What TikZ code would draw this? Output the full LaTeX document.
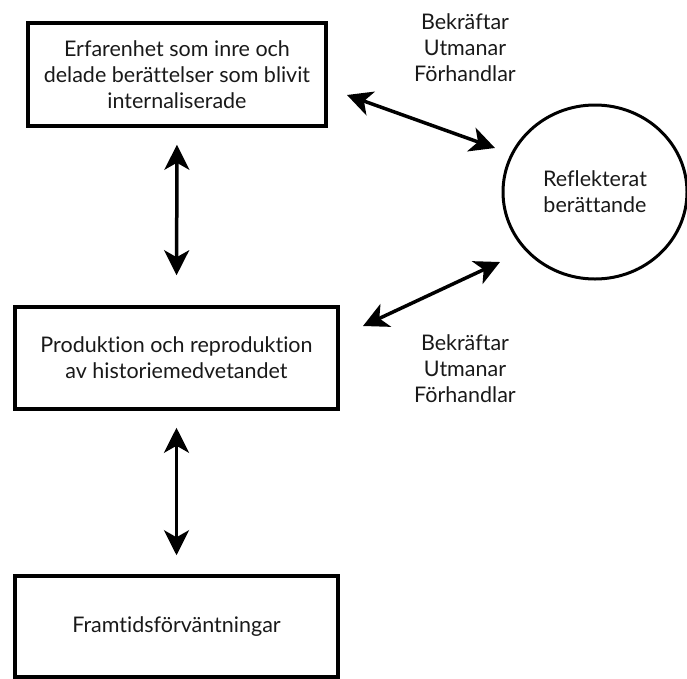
\documentclass[tikz,border=0pt]{standalone}
\usepackage{fontspec}
\setmainfont{Lato}[Ligatures={NoCommon}]
\usetikzlibrary{shapes.geometric,arrows.meta}
\begin{document}
\begin{tikzpicture}[x=1pt,y=-1pt,
  txt/.style={text=black!90, font=\fontsize{21.5}{26}\selectfont, align=center, inner sep=0pt},
  boxnode/.style={draw, line width=3.5pt, minimum width=#1, inner sep=0pt, txt},
  dbl/.style={line width=3.5pt, {Stealth[length=25pt,width=25pt,inset=7pt]}-{Stealth[length=25pt,width=25pt,inset=7pt]}}
]
\useasboundingbox (0,0) rectangle (687,678);
\node[boxnode=298pt, minimum height=103pt] (b1) at (177,74.5) {Erfarenhet som inre och\\delade berättelser som blivit\\internaliserade};
\node[boxnode=323pt, minimum height=102pt] (b2) at (176.5,358) {Produktion och reproduktion\\av historiemedvetandet};
\node[boxnode=323pt, minimum height=101pt] (b3) at (176.5,626.5) {Framtidsförväntningar};
\node[ellipse, draw, line width=3pt, minimum width=184pt, minimum height=174pt, txt] (c) at (595,192) {Reflekterat\\berättande};
\node[txt] (l1) at (465,48) {Bekräftar\\Utmanar\\Förhandlar};
\node[txt] (l2) at (465,369) {Bekräftar\\Utmanar\\Förhandlar};
\coordinate (p1) at (347,95);
\coordinate (q1) at (495,148);
\coordinate (p2) at (363,326);
\coordinate (q2) at (500,262);
\draw[dbl, shorten <=17pt, shorten >=30pt] (b1.south) -- (b2.north);
\draw[dbl, shorten <=17pt, shorten >=19pt] (b2.south) -- (b3.north);
\draw[dbl] (p1) -- (q1);
\draw[dbl] (p2) -- (q2);
\end{tikzpicture}
\end{document}
